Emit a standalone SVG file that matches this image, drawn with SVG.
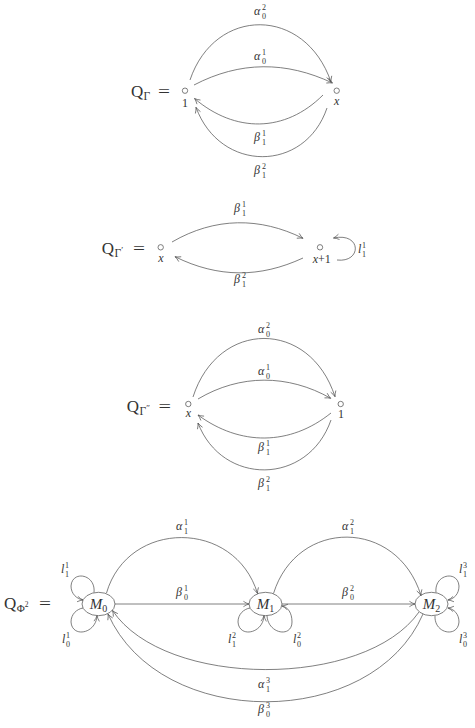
<svg xmlns="http://www.w3.org/2000/svg" width="475" height="728" viewBox="0 0 475 728">
<defs>
<marker id="ah" viewBox="-7 -4 8 8" refX="0" refY="0" markerWidth="8" markerHeight="8" markerUnits="userSpaceOnUse" orient="auto">
<path d="M -5.6 -2.7 Q -2.6 -0.7 0 0 Q -2.6 0.7 -5.6 2.7" fill="none" stroke="#555" stroke-width="0.7"/>
</marker>
<style>
.ln{fill:none;stroke:#555;stroke-width:0.75;marker-end:url(#ah)}
.nd{fill:none;stroke:#555;stroke-width:0.75}
.t{font-family:"Liberation Serif","DejaVu Serif",serif;fill:#333}
.i{font-style:italic}
.m{font-size:12px}
.s{font-size:8px}
.big{font-size:17px}
.mid{text-anchor:middle}
</style>
</defs>
<rect width="475" height="728" fill="#fff"/>

<!-- titles -->
<g id="title-gamma">
<text class="t big" x="131" y="96.5">Q</text><text class="t" font-size="11.5" x="143.5" y="99.5">Γ</text>
<text class="t big" x="158" y="96.5" textLength="12" lengthAdjust="spacingAndGlyphs">=</text>
</g>
<g id="title-gamma1">
<text class="t big" x="101.7" y="254">Q</text><text class="t" font-size="11.5" x="114.5" y="257">Γ<tspan font-size="9" dy="-4">′</tspan></text>
<text class="t big" x="133" y="254" textLength="12" lengthAdjust="spacingAndGlyphs">=</text>
</g>
<g id="title-gamma2">
<text class="t big" x="126.7" y="411.7">Q</text><text class="t" font-size="11.5" x="139.5" y="414.7">Γ<tspan font-size="9" dy="-4">″</tspan></text>
<text class="t big" x="158.5" y="411.7" textLength="12.5" lengthAdjust="spacingAndGlyphs">=</text>
</g>
<g id="title-phi">
<text class="t big" x="4" y="609">Q</text><text class="t" font-size="11" x="16.7" y="612">Φ<tspan font-size="7.5" dy="-5">2</tspan></text>
<text class="t big" x="39" y="609" textLength="12" lengthAdjust="spacingAndGlyphs">=</text>
</g>

<!-- nodes -->
<g id="n-g1"><circle class="nd" cx="185" cy="90.7" r="2.7"/><text class="t m mid" x="185" y="106.5">1</text></g>
<g id="n-gx"><circle class="nd" cx="336.7" cy="90.7" r="2.7"/><text class="t m i mid" x="336.7" y="105">x</text></g>
<g id="n-g1x"><circle class="nd" cx="160.7" cy="247.3" r="2.7"/><text class="t m i mid" x="161" y="262">x</text></g>
<g id="n-g1x1"><circle class="nd" cx="320" cy="247.3" r="2.7"/><text class="t m mid" x="321.7" y="263"><tspan class="i">x</tspan>+1</text></g>
<g id="n-g2x"><circle class="nd" cx="188.3" cy="404" r="2.7"/><text class="t m i mid" x="188.3" y="417">x</text></g>
<g id="n-g21"><circle class="nd" cx="340.7" cy="404" r="2.7"/><text class="t m mid" x="341" y="417.5">1</text></g>
<g id="n-M0"><ellipse class="nd" cx="98.5" cy="604" rx="16.5" ry="11.7"/><text class="t i mid" font-size="15" x="98.5" y="608.5">M<tspan font-style="normal" font-size="10" dy="3">0</tspan></text></g>
<g id="n-M1"><ellipse class="nd" cx="265.5" cy="604" rx="16.5" ry="11.7"/><text class="t i mid" font-size="15" x="265.5" y="608.5">M<tspan font-style="normal" font-size="10" dy="3">1</tspan></text></g>
<g id="n-M2"><ellipse class="nd" cx="431.5" cy="604" rx="16.5" ry="11.7"/><text class="t i mid" font-size="15" x="431.5" y="608.5">M<tspan font-style="normal" font-size="10" dy="3">2</tspan></text></g>

<!-- connectors -->
<g id="connectors">
<path class="ln" d="M 190 80 C 215 6, 305 6, 331 82"/>
<path class="ln" d="M 194 85 C 240 61, 286 61, 332.5 83"/>
<path class="ln" d="M 323 95 C 285 133, 235 133, 194.5 98.5"/>
<path class="ln" d="M 327 108 C 305 173, 220 173, 196 107.3"/>

<path class="ln" d="M 172 242 C 215 217, 260 217, 303 238.3"/>
<path class="ln" d="M 303 258 C 260 278, 218 278, 175 256.7"/>
<path class="ln" d="M 337 260 C 362 263, 362 232, 333.5 238"/>

<path class="ln" d="M 193 397 C 218 319, 310 319, 335 396.7"/>
<path class="ln" d="M 198 399 C 240 374, 288 374, 330.7 398.3"/>
<path class="ln" d="M 331 413 C 290 446, 240 446, 198 415"/>
<path class="ln" d="M 331 420 C 308 486, 222 486, 198 423"/>

<path class="ln" d="M 106.5 593 C 128 519, 235 519, 257.5 593.5"/>
<path class="ln" d="M 273.5 593.5 C 297 518, 397 518, 421 595.5"/>
<path class="ln" d="M 115 604 L 249 604"/>
<path class="ln" d="M 282 604 L 415 604"/>
<path class="ln" d="M 419 612 C 365 689, 165 689, 112.5 610.5"/>
<path class="ln" d="M 423 614 C 372 731, 160 731, 108 614"/>

<path class="ln" d="M 94 592.5 C 96 574, 72 570, 71 586 C 71 594, 77 599, 83 600"/>
<path class="ln" d="M 83 608 C 77 609, 71 614, 71 622 C 72 638, 96 634, 97 615.7"/>
<path class="ln" d="M 250 608 C 244 609, 238 614, 238 622 C 239 638, 263 634, 264 615.7"/>
<path class="ln" d="M 267 615.7 C 268 634, 292 638, 292 622 C 292 613, 288 607, 282 606"/>
<path class="ln" d="M 436 592.5 C 434 574, 458 570, 459 586 C 459 594, 454 599, 448 600"/>
<path class="ln" d="M 435 615.7 C 434 634, 458 638, 459 622 C 459 614, 454 609, 448 608"/>
</g>

<!-- connector labels -->
<g id="labels">
<text class="t i m" x="254" y="15">α</text><text class="t s" x="262" y="9.8">2</text><text class="t s" x="262" y="18.5">0</text>
<text class="t i m" x="254" y="60">α</text><text class="t s" x="262" y="54.8">1</text><text class="t s" x="262" y="63.5">0</text>
<text class="t i m" x="254" y="141">β</text><text class="t s" x="262" y="135.8">1</text><text class="t s" x="262" y="144.5">1</text>
<text class="t i m" x="254" y="174">β</text><text class="t s" x="262" y="168.8">2</text><text class="t s" x="262" y="177.5">1</text>

<text class="t i m" x="234" y="212">β</text><text class="t s" x="242" y="206.8">1</text><text class="t s" x="242" y="215.5">1</text>
<text class="t i m" x="234" y="283">β</text><text class="t s" x="242" y="277.8">2</text><text class="t s" x="242" y="286.5">1</text>
<text class="t i m" x="358" y="253">l</text><text class="t s" x="362" y="247.8">1</text><text class="t s" x="362" y="256.5">1</text>

<text class="t i m" x="258" y="333">α</text><text class="t s" x="266" y="327.8">2</text><text class="t s" x="266" y="336.5">0</text>
<text class="t i m" x="258" y="375">α</text><text class="t s" x="266" y="369.8">1</text><text class="t s" x="266" y="378.5">0</text>
<text class="t i m" x="258" y="451">β</text><text class="t s" x="266" y="445.8">1</text><text class="t s" x="266" y="454.5">1</text>
<text class="t i m" x="258" y="487">β</text><text class="t s" x="266" y="481.8">2</text><text class="t s" x="266" y="490.5">1</text>

<text class="t i m" x="176" y="530">α</text><text class="t s" x="184" y="524.8">1</text><text class="t s" x="184" y="533.5">1</text>
<text class="t i m" x="176" y="596">β</text><text class="t s" x="184" y="590.8">1</text><text class="t s" x="184" y="599.5">0</text>
<text class="t i m" x="342" y="530">α</text><text class="t s" x="350" y="524.8">2</text><text class="t s" x="350" y="533.5">1</text>
<text class="t i m" x="342" y="596">β</text><text class="t s" x="350" y="590.8">2</text><text class="t s" x="350" y="599.5">0</text>
<text class="t i m" x="258" y="688">α</text><text class="t s" x="266" y="682.8">3</text><text class="t s" x="266" y="691.5">1</text>
<text class="t i m" x="258" y="713">β</text><text class="t s" x="266" y="707.8">3</text><text class="t s" x="266" y="716.5">0</text>

<text class="t i m" x="61" y="573">l</text><text class="t s" x="65" y="567.8">1</text><text class="t s" x="65" y="576.5">1</text>
<text class="t i m" x="62" y="643">l</text><text class="t s" x="66" y="637.8">1</text><text class="t s" x="66" y="646.5">0</text>
<text class="t i m" x="228" y="643">l</text><text class="t s" x="232" y="637.8">2</text><text class="t s" x="232" y="646.5">1</text>
<text class="t i m" x="293" y="643">l</text><text class="t s" x="297" y="637.8">2</text><text class="t s" x="297" y="646.5">0</text>
<text class="t i m" x="459" y="573">l</text><text class="t s" x="463" y="567.8">3</text><text class="t s" x="463" y="576.5">1</text>
<text class="t i m" x="459" y="643">l</text><text class="t s" x="463" y="637.8">3</text><text class="t s" x="463" y="646.5">0</text>
</g>
</svg>
